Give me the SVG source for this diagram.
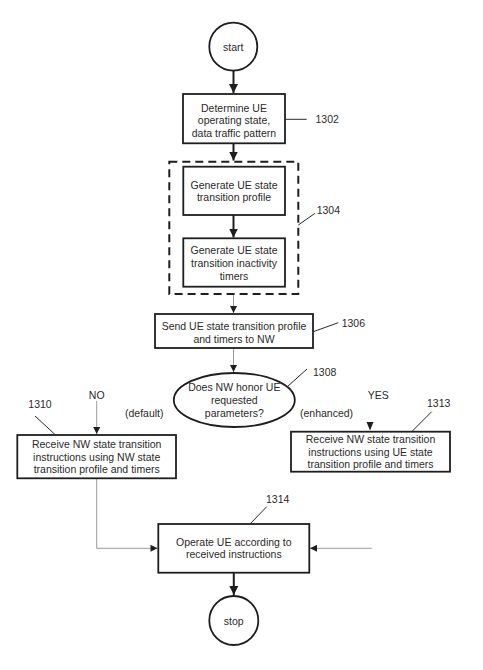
<svg xmlns="http://www.w3.org/2000/svg" width="483" height="670" viewBox="0 0 483 670">
<style>
text{font-family:"Liberation Sans",Arial,sans-serif;font-size:10.5px;fill:#2a2a2a}
.c{text-anchor:middle}
.box{fill:#fff;stroke:#1e1e1e;stroke-width:1.8}
.dash{fill:none;stroke:#1e1e1e;stroke-width:2;stroke-dasharray:8 5}
.blk{stroke:#1e1e1e;stroke-width:2;fill:none}
.gry{stroke:#9a9a9a;stroke-width:1;fill:none}
.lead{stroke:#2a2a2a;stroke-width:1;fill:none}
</style>
<defs>
<marker id="ah" viewBox="0 0 10 10" refX="10" refY="5" markerWidth="4.5" markerHeight="5" markerUnits="strokeWidth" orient="auto"><path d="M0,0L10,5L0,10z" fill="#1e1e1e"/></marker>
<marker id="ahs" viewBox="0 0 10 10" refX="10" refY="5" markerWidth="8" markerHeight="7" markerUnits="strokeWidth" orient="auto"><path d="M0,0L10,5L0,10z" fill="#1e1e1e"/></marker>
</defs>
<rect width="483" height="670" fill="#fff"/>
<g id="connectors">
<line class="blk" x1="233.5" y1="71" x2="233.5" y2="93" marker-end="url(#ah)"/>
<line class="blk" x1="233.5" y1="143.5" x2="233.5" y2="160.5" marker-end="url(#ah)"/>
<line class="blk" x1="233.5" y1="215" x2="233.5" y2="237.5" marker-end="url(#ah)"/>
<line class="gry" x1="233.5" y1="294" x2="233.5" y2="313" marker-end="url(#ahs)"/>
<line class="gry" x1="233.5" y1="348" x2="233.5" y2="372" marker-end="url(#ahs)"/>
<line class="gry" x1="96.7" y1="401" x2="96.7" y2="434" marker-end="url(#ahs)"/>
<path d="M366.5,422 L373.5,422 L370,430.5z" fill="#1e1e1e"/>
<polyline class="gry" points="96.7,478.5 96.7,548.3 157.5,548.3" marker-end="url(#ahs)"/>
<line class="gry" x1="371.7" y1="548.3" x2="310" y2="548.3" marker-end="url(#ahs)"/>
<line class="blk" x1="233.8" y1="573" x2="233.8" y2="595" marker-end="url(#ah)"/>
</g>
<g id="start">
<circle cx="233.3" cy="46.7" r="24" fill="#fff" stroke="#1e1e1e" stroke-width="1.8"/>
<text class="c" x="233.3" y="50.5">start</text>
</g>
<g id="n1302">
<rect class="box" x="183" y="94" width="102" height="49.3"/>
<text class="c" x="234" y="111.5">Determine UE</text>
<text class="c" x="234" y="124">operating state,</text>
<text class="c" x="234" y="136.5">data traffic pattern</text>
<line class="lead" x1="285" y1="119.3" x2="306.7" y2="119.3"/>
<text x="315.5" y="123.3">1302</text>
</g>
<g id="n1304">
<rect class="dash" x="169.3" y="161.7" width="129" height="132.3"/>
<line class="lead" x1="298.3" y1="225" x2="315" y2="213.3"/>
<text x="316.7" y="213.8">1304</text>
</g>
<g id="genProfile">
<rect class="box" x="183.3" y="166.7" width="101.7" height="48.3"/>
<text class="c" x="234" y="189">Generate UE state</text>
<text class="c" x="234" y="201">transition profile</text>
</g>
<g id="genTimers">
<rect class="box" x="183.3" y="238.3" width="101.7" height="48.4"/>
<text class="c" x="234" y="254">Generate UE state</text>
<text class="c" x="234" y="267">transition inactivity</text>
<text class="c" x="234" y="280">timers</text>
</g>
<g id="n1306">
<rect class="box" x="155" y="314" width="158" height="34"/>
<text class="c" x="234" y="330">Send UE state transition profile</text>
<text class="c" x="234" y="342.5">and timers to NW</text>
<line class="lead" x1="313.3" y1="331.7" x2="338.3" y2="322.7"/>
<text x="341.7" y="326.5">1306</text>
</g>
<g id="n1308">
<ellipse cx="234.3" cy="400" rx="60.5" ry="27" fill="#fff" stroke="#1e1e1e" stroke-width="1.8"/>
<text class="c" x="234.3" y="391">Does NW honor UE</text>
<text class="c" x="234.3" y="404">requested</text>
<text class="c" x="234.3" y="416.7">parameters?</text>
<line class="lead" x1="287" y1="387" x2="307" y2="369"/>
<text x="313" y="375.5">1308</text>
<text class="c" x="96.7" y="399">NO</text>
<text x="125" y="416.7">(default)</text>
<text class="c" x="378.3" y="399">YES</text>
<text x="300" y="416.7">(enhanced)</text>
</g>
<g id="n1310">
<rect class="box" x="17.3" y="435" width="158.7" height="43.3"/>
<text class="c" x="96.7" y="447.5">Receive NW state transition</text>
<text class="c" x="96.7" y="460.5">instructions using NW state</text>
<text class="c" x="96.7" y="473.3">transition profile and timers</text>
<line class="lead" x1="35" y1="416" x2="55" y2="434.5"/>
<text x="28.3" y="408">1310</text>
</g>
<g id="n1313">
<rect class="box" x="291" y="431.7" width="159" height="40"/>
<text class="c" x="370.5" y="442.5">Receive NW state transition</text>
<text class="c" x="370.5" y="455.5">instructions using UE state</text>
<text class="c" x="370.5" y="468">transition profile and timers</text>
<line class="lead" x1="411.7" y1="431.7" x2="431.7" y2="411.7"/>
<text x="427" y="406.7">1313</text>
</g>
<g id="n1314">
<rect class="box" x="158.3" y="524" width="151" height="48.7"/>
<text class="c" x="233.8" y="546.3">Operate UE according to</text>
<text class="c" x="233.8" y="558.3">received instructions</text>
<line class="lead" x1="250" y1="524" x2="266.7" y2="506.7"/>
<text x="266" y="503.3">1314</text>
</g>
<g id="stop">
<circle cx="233.8" cy="620.5" r="24.5" fill="#fff" stroke="#1e1e1e" stroke-width="1.8"/>
<text class="c" x="233.8" y="624.5">stop</text>
</g>
</svg>
